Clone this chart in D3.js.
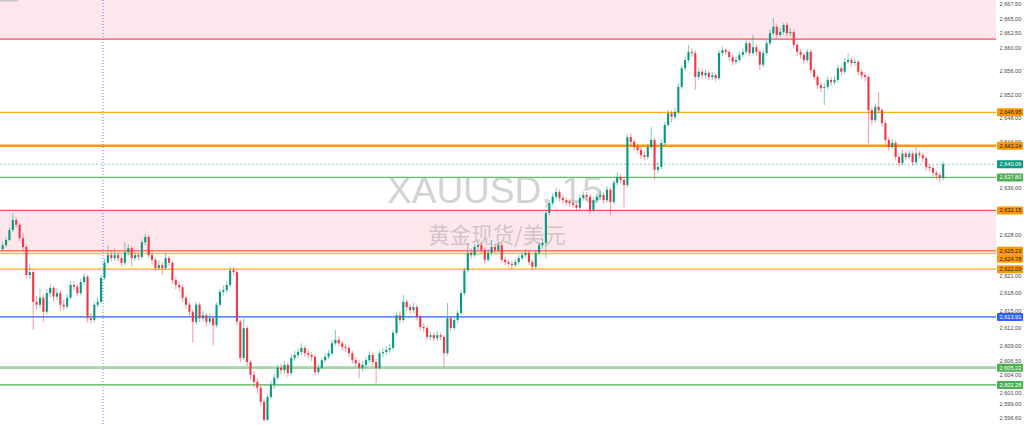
<!DOCTYPE html>
<html><head><meta charset="utf-8">
<script src="https://cdn.jsdelivr.net/npm/d3@7"></script>
<style>html,body{margin:0;padding:0;background:#fff;overflow:hidden}</style>
</head><body>
<svg id="chart" width="1024" height="425"></svg>
<script>
// ---- DATA ----
const opens = [2625.5,2626.2,2627.1,2628.8,2630.5,2629.7,2627.4,2625.9,2621.1,2621.6,
2616.5,2616.0,2617.2,2614.8,2618.0,2618.9,2617.4,2618.0,2616.0,2615.7,
2617.2,2619.4,2619.1,2618.0,2619.9,2620.8,2613.7,2613.4,2616.0,2616.5,
2620.6,2623.2,2624.5,2624.0,2624.5,2624.0,2623.2,2625.0,2625.7,2624.0,
2624.5,2624.2,2626.7,2627.6,2624.5,2623.7,2622.3,2622.8,2622.3,2624.0,
2623.2,2620.2,2619.4,2619.0,2617.2,2616.0,2614.8,2613.1,2616.0,2613.7,
2614.2,2613.1,2613.7,2612.5,2616.0,2618.2,2618.5,2619.4,2621.9,2621.6,
2613.1,2606.9,2612.0,2606.2,2604.0,2602.8,2601.8,2599.4,2596.3,2600.2,
2602.3,2603.5,2605.2,2604.8,2605.7,2604.3,2606.9,2607.4,2607.9,2608.6,
2607.7,2607.4,2607.1,2604.5,2605.2,2606.5,2607.1,2607.7,2609.4,2610.0,
2609.4,2608.8,2608.6,2607.7,2606.5,2606.0,2605.2,2605.7,2606.5,2607.4,
2606.2,2605.2,2607.7,2607.9,2608.3,2608.6,2611.2,2614.2,2613.4,2616.5,
2615.6,2615.1,2615.6,2613.9,2612.2,2612.0,2610.5,2610.8,2610.3,2610.8,
2610.5,2607.7,2613.7,2612.0,2613.4,2614.6,2618.0,2621.9,2624.9,2624.5,
2625.9,2626.2,2625.4,2623.7,2624.9,2625.9,2625.4,2626.2,2623.7,2623.3,
2623.0,2622.8,2623.3,2624.0,2624.5,2624.9,2623.3,2622.5,2624.9,2626.2,
2626.6,2631.7,2633.4,2634.5,2635.3,2634.3,2633.9,2633.6,2633.4,2633.1,
2632.6,2634.3,2634.8,2634.5,2632.2,2633.9,2634.5,2634.8,2633.9,2635.7,
2633.6,2636.9,2637.9,2637.4,2636.5,2644.7,2643.9,2643.0,2642.5,2641.6,
2641.3,2643.0,2644.2,2639.1,2639.6,2643.7,2646.8,2648.8,2648.2,2649.0,
2653.3,2656.5,2657.9,2659.3,2659.1,2655.0,2655.9,2655.3,2655.7,2655.0,
2655.3,2654.8,2659.1,2659.6,2659.3,2658.4,2657.6,2657.9,2658.8,2659.3,
2660.8,2659.1,2660.1,2659.3,2657.1,2659.1,2660.8,2662.5,2663.6,2662.2,
2662.7,2663.9,2662.5,2662.7,2660.5,2659.3,2658.8,2657.9,2659.3,2656.2,
2655.0,2653.6,2653.1,2653.3,2654.5,2654.1,2654.5,2656.5,2655.9,2657.6,
2657.9,2657.4,2657.6,2655.9,2655.3,2655.0,2649.3,2647.6,2649.9,2649.3,
2647.1,2644.2,2643.0,2643.7,2641.3,2640.3,2641.9,2641.3,2641.9,2640.4,
2641.9,2641.6,2641.1,2639.6,2639.4,2638.6,2638.2,2637.7];

const highs = [2626.8,2627.6,2629.3,2631.7,2630.9,2630.0,2628.2,2626.3,2623.0,2622.0,
2617.5,2618.8,2617.8,2618.6,2619.5,2619.2,2618.9,2618.4,2616.9,2617.8,
2620.1,2620.0,2619.6,2620.4,2621.4,2621.1,2614.6,2616.5,2617.3,2621.1,
2623.9,2626.2,2625.3,2625.6,2625.0,2624.5,2626.7,2626.4,2626.0,2625.1,
2625.0,2627.2,2628.1,2627.9,2625.0,2624.1,2623.6,2623.2,2624.9,2624.4,
2623.5,2620.8,2620.0,2619.4,2617.6,2616.5,2615.2,2616.5,2616.4,2615.0,
2614.6,2614.5,2614.1,2616.4,2618.7,2619.3,2620.0,2622.5,2622.5,2622.0,
2613.5,2613.7,2612.4,2606.6,2604.6,2603.4,2602.3,2599.9,2600.7,2603.0,
2604.2,2605.8,2605.9,2606.4,2606.1,2607.5,2608.1,2608.5,2609.4,2609.0,
2608.3,2607.9,2607.5,2605.9,2607.0,2607.7,2608.3,2610.0,2611.7,2610.5,
2609.9,2609.3,2609.0,2608.1,2607.0,2606.5,2606.3,2607.1,2608.0,2607.8,
2606.7,2608.2,2608.6,2608.9,2609.3,2611.7,2614.7,2614.9,2617.7,2616.9,
2616.1,2616.3,2616.0,2614.3,2612.8,2612.4,2611.4,2611.3,2611.5,2611.2,
2610.9,2616.3,2614.1,2613.9,2615.1,2618.5,2622.4,2626.6,2625.6,2626.5,
2626.9,2626.7,2625.8,2625.5,2627.1,2626.4,2626.8,2626.6,2624.2,2623.8,
2623.5,2623.8,2624.5,2625.0,2625.5,2625.3,2623.8,2625.4,2626.7,2627.3,
2632.2,2633.9,2635.1,2636.0,2635.7,2634.8,2634.4,2634.1,2633.9,2633.5,
2634.8,2635.4,2635.3,2634.9,2634.4,2635.1,2635.5,2635.2,2636.3,2636.1,
2637.4,2638.6,2638.4,2637.9,2645.2,2645.3,2644.4,2643.5,2643.0,2642.2,
2643.6,2646.4,2644.6,2640.4,2644.2,2647.3,2649.4,2649.3,2649.7,2653.9,
2657.0,2658.5,2660.5,2659.9,2659.5,2656.6,2656.4,2656.3,2656.1,2655.9,
2655.7,2659.6,2660.2,2660.0,2659.7,2658.8,2658.5,2659.4,2659.9,2661.4,
2661.1,2662.2,2660.6,2659.7,2659.6,2661.3,2663.1,2665.1,2664.0,2663.4,
2664.2,2664.3,2663.4,2663.1,2660.9,2659.8,2659.2,2659.8,2659.7,2656.6,
2655.4,2654.1,2653.9,2655.1,2655.0,2655.2,2657.1,2656.9,2658.2,2659.1,
2658.4,2658.2,2658.0,2656.3,2655.8,2655.4,2649.8,2650.5,2652.4,2649.7,
2647.5,2644.7,2644.4,2644.1,2641.8,2642.5,2642.3,2642.5,2642.3,2643.0,
2642.4,2642.0,2641.5,2640.1,2639.8,2639.0,2638.6,2640.6];

const lows = [2625.1,2625.8,2626.9,2628.5,2629.2,2626.9,2625.3,2620.5,2620.4,2611.7,
2615.2,2615.5,2613.1,2614.3,2617.3,2616.6,2616.8,2614.9,2615.0,2615.3,
2616.9,2618.5,2617.5,2617.6,2619.4,2613.0,2612.8,2613.0,2615.6,2616.2,
2620.2,2622.9,2623.4,2623.5,2623.3,2622.6,2622.8,2624.4,2622.5,2623.5,
2623.6,2623.9,2626.2,2624.0,2622.9,2621.8,2621.9,2621.1,2621.9,2622.6,
2619.6,2618.7,2618.2,2616.5,2615.3,2614.0,2609.5,2612.6,2613.0,2613.1,
2612.3,2612.6,2609.1,2612.1,2615.6,2617.6,2618.0,2619.0,2621.0,2612.5,
2606.2,2606.5,2605.5,2603.2,2601.9,2600.8,2598.7,2596.0,2596.1,2599.8,
2601.6,2603.1,2604.1,2604.2,2603.6,2604.0,2606.4,2606.9,2607.4,2607.1,
2606.8,2606.3,2604.0,2604.1,2604.9,2606.1,2606.7,2607.3,2609.0,2608.9,
2608.2,2607.9,2607.1,2605.9,2605.4,2603.4,2604.6,2605.2,2606.0,2605.6,
2602.6,2604.8,2607.0,2607.4,2607.8,2608.2,2610.8,2612.8,2613.0,2615.0,
2614.5,2614.6,2613.3,2611.6,2611.3,2609.9,2610.0,2609.7,2609.8,2609.9,
2605.3,2607.3,2611.4,2611.6,2613.0,2614.2,2617.6,2621.5,2623.9,2624.1,
2625.4,2624.8,2623.1,2623.3,2624.5,2624.8,2625.0,2623.1,2622.7,2622.5,
2622.1,2622.4,2622.9,2623.6,2624.1,2622.8,2621.9,2622.1,2624.5,2625.6,
2624.0,2631.3,2633.0,2634.1,2633.7,2633.3,2633.0,2632.8,2632.6,2632.0,
2632.2,2633.8,2634.0,2631.6,2631.8,2633.4,2634.0,2633.3,2633.5,2631.4,
2633.2,2636.4,2636.8,2632.7,2636.1,2643.2,2642.4,2641.9,2641.0,2640.7,
2640.9,2642.6,2637.4,2638.5,2639.2,2643.3,2646.4,2647.3,2647.8,2648.5,
2652.9,2656.0,2657.5,2658.4,2652.8,2654.5,2654.7,2654.8,2654.4,2654.5,
2654.2,2654.4,2658.6,2658.8,2657.8,2657.0,2657.1,2657.5,2658.4,2658.9,
2658.5,2658.7,2658.7,2656.2,2656.7,2658.7,2660.4,2662.1,2661.6,2661.8,
2662.3,2661.9,2662.0,2659.9,2658.6,2658.1,2657.2,2657.5,2655.6,2654.4,
2652.9,2652.4,2650.2,2652.9,2653.5,2653.6,2654.1,2655.3,2655.5,2657.2,
2656.9,2656.9,2655.3,2654.7,2654.2,2643.7,2646.9,2647.2,2648.7,2646.5,
2643.6,2642.3,2642.6,2640.7,2639.6,2639.9,2640.7,2640.9,2639.8,2640.0,
2641.0,2640.5,2639.0,2638.8,2638.0,2637.5,2637.0,2637.3];

const closes = [2626.2,2627.1,2628.8,2630.5,2629.7,2627.4,2625.9,2621.1,2621.6,2616.5,
2616.0,2617.2,2614.8,2618.0,2618.9,2617.4,2618.0,2616.0,2615.7,2617.2,
2619.4,2619.1,2618.0,2619.9,2620.8,2613.7,2613.4,2616.0,2616.5,2620.6,
2623.2,2624.5,2624.0,2624.5,2624.0,2623.2,2625.0,2625.7,2624.0,2624.5,
2624.2,2626.7,2627.6,2624.5,2623.7,2622.3,2622.8,2622.3,2624.0,2623.2,
2620.2,2619.4,2619.0,2617.2,2616.0,2614.8,2613.1,2616.0,2613.7,2614.2,
2613.1,2613.7,2612.5,2616.0,2618.2,2618.5,2619.4,2621.9,2621.6,2613.1,
2606.9,2612.0,2606.2,2604.0,2602.8,2601.8,2599.4,2596.3,2600.2,2602.3,
2603.5,2605.2,2604.8,2605.7,2604.3,2606.9,2607.4,2607.9,2608.6,2607.7,
2607.4,2607.1,2604.5,2605.2,2606.5,2607.1,2607.7,2609.4,2610.0,2609.4,
2608.8,2608.6,2607.7,2606.5,2606.0,2605.2,2605.7,2606.5,2607.4,2606.2,
2605.2,2607.7,2607.9,2608.3,2608.6,2611.2,2614.2,2613.4,2616.5,2615.6,
2615.1,2615.6,2613.9,2612.2,2612.0,2610.5,2610.8,2610.3,2610.8,2610.5,
2607.7,2613.7,2612.0,2613.4,2614.6,2618.0,2621.9,2624.9,2624.5,2625.9,
2626.2,2625.4,2623.7,2624.9,2625.9,2625.4,2626.2,2623.7,2623.3,2623.0,
2622.8,2623.3,2624.0,2624.5,2624.9,2623.3,2622.5,2624.9,2626.2,2626.6,
2631.7,2633.4,2634.5,2635.3,2634.3,2633.9,2633.6,2633.4,2633.1,2632.6,
2634.3,2634.8,2634.5,2632.2,2633.9,2634.5,2634.8,2633.9,2635.7,2633.6,
2636.9,2637.9,2637.4,2636.5,2644.7,2643.9,2643.0,2642.5,2641.6,2641.3,
2643.0,2644.2,2639.1,2639.6,2643.7,2646.8,2648.8,2648.2,2649.0,2653.3,
2656.5,2657.9,2659.3,2659.1,2655.0,2655.9,2655.3,2655.7,2655.0,2655.3,
2654.8,2659.1,2659.6,2659.3,2658.4,2657.6,2657.9,2658.8,2659.3,2660.8,
2659.1,2660.1,2659.3,2657.1,2659.1,2660.8,2662.5,2663.6,2662.2,2662.7,
2663.9,2662.5,2662.7,2660.5,2659.3,2658.8,2657.9,2659.3,2656.2,2655.0,
2653.6,2653.1,2653.3,2654.5,2654.1,2654.5,2656.5,2655.9,2657.6,2657.9,
2657.4,2657.6,2655.9,2655.3,2655.0,2649.3,2647.6,2649.9,2649.3,2647.1,
2644.2,2643.0,2643.7,2641.3,2640.3,2641.9,2641.3,2641.9,2640.4,2641.9,
2641.6,2641.1,2639.6,2639.4,2638.6,2638.2,2637.7,2640.06];

const tickValues = [2667.5,2665,2662.5,2660,2656,2652,2648,2644,2640,2636,2628,2621,2618,2615,2612,2609,2606.5,2604,2601,2599,2596.6];
const levelPrices = [2661.5,2648.95,2643.24,2640.06,2637.80,2632.15,2625.23,2624.78,2622.09,2613.91,2605.22,2602.28];
const zoneBounds = [[2661.5,2672],[2625.23,2632.15]];
const watermarkTitle = "XAUUSD, 15";
const watermarkSub = "黄金现货/美元";

// ---- STYLES ----
const levelStyles = [
  {c:"#f7525f", w:1.3, label:false},
  {c:"#ffa726", w:1.3, label:true, bg:"#ff9800", tc:"#1b1b1b"},
  {c:"#ff9800", w:2.4, label:true, bg:"#ff9800", tc:"#1b1b1b"},
  {c:"#7fcfc0", w:1, dash:"2,2", label:true, bg:"#089981", tc:"#ffffff"},
  {c:"#66bb6a", w:1.3, label:true, bg:"#4caf50", tc:"#ffffff"},
  {c:"#f7525f", w:1.3, label:true, bg:"#ff9800", tc:"#1b1b1b"},
  {c:"#f7525f", w:1.3, label:true, bg:"#ff9800", tc:"#1b1b1b"},
  {c:"#ffb74d", w:1.3, label:true, bg:"#ff9800", tc:"#1b1b1b"},
  {c:"#ffa726", w:1.3, label:true, bg:"#ff9800", tc:"#1b1b1b"},
  {c:"#2962ff", w:1.3, label:true, bg:"#2962ff", tc:"#ffffff"},
  {c:"#a5d6a7", w:2.8, label:true, bg:"#4caf50", tc:"#ffffff"},
  {c:"#4caf50", w:1.3, label:true, bg:"#4caf50", tc:"#ffffff"}
];
const UP = "#089981", DOWN = "#f23645";

const svg = d3.select("#chart");
const W = 1024, H = 425, plotRight = 996;

const y = d3.scaleLinear().domain([2596.6, 2667.5]).range([418.06, 4]);
const idx = d3.range(closes.length);
const x = d3.scaleBand().domain(idx).range([0.3, 945.5]).padding(0.38);

// zones
svg.append("g").selectAll("rect").data(zoneBounds).join("rect")
  .attr("x", 0).attr("width", plotRight)
  .attr("y", d => y(d[1])).attr("height", d => y(d[0]) - y(d[1]))
  .attr("fill", "#fde6ec");

// watermark
svg.append("text").text(watermarkTitle)
  .attr("x", 495).attr("y", 203).attr("text-anchor", "middle")
  .attr("font-family", "'Liberation Sans', Arial, sans-serif").attr("font-size", 37)
  .attr("fill", "rgba(140,140,140,0.4)");
svg.append("text").text(watermarkSub)
  .attr("x", 497).attr("y", 243).attr("text-anchor", "middle")
  .attr("font-family", "'Noto Sans CJK SC', sans-serif").attr("font-size", 21.5)
  .attr("fill", "rgba(140,140,140,0.4)");

// vertical dotted line
svg.append("line").attr("x1", 103).attr("x2", 103).attr("y1", 0).attr("y2", H)
  .attr("stroke", "#2962ff").attr("stroke-width", 1).attr("stroke-dasharray", "1,2").attr("opacity", 0.75);

// level lines
svg.append("g").selectAll("line").data(levelPrices).join("line")
  .attr("x1", 0).attr("x2", plotRight)
  .attr("y1", d => y(d)).attr("y2", d => y(d))
  .attr("stroke", (d,i) => levelStyles[i].c)
  .attr("stroke-width", (d,i) => levelStyles[i].w)
  .attr("stroke-dasharray", (d,i) => levelStyles[i].dash || null);

// candles
const g = svg.append("g");
const bw = x.bandwidth();
g.selectAll("line.wick").data(idx).join("line")
  .attr("class","wick")
  .attr("x1", i => x(i) + bw/2).attr("x2", i => x(i) + bw/2)
  .attr("y1", i => y(highs[i])).attr("y2", i => y(lows[i]))
  .attr("stroke", i => closes[i] >= opens[i] ? UP : DOWN)
  .attr("stroke-width", 1).attr("opacity", 0.5);
g.selectAll("rect.body").data(idx).join("rect")
  .attr("class","body")
  .attr("x", i => x(i)).attr("width", bw)
  .attr("y", i => y(Math.max(opens[i], closes[i])))
  .attr("height", i => Math.max(1, Math.abs(y(opens[i]) - y(closes[i]))))
  .attr("fill", i => closes[i] >= opens[i] ? UP : DOWN);

// top-left marker
svg.append("rect").attr("x",0).attr("y",0).attr("width",18).attr("height",1.5).attr("fill","#c8c8c8");

// price axis
const fmt = d3.format(",.2f");
const axis = svg.append("g").attr("transform", `translate(${plotRight},0)`)
  .call(d3.axisRight(y).tickValues(tickValues).tickFormat(fmt).tickSize(0).tickPadding(3.5));
axis.select(".domain").remove();
axis.selectAll("text").attr("font-family", "'Liberation Sans', Arial, sans-serif")
  .attr("font-size", 5.6).attr("fill", "#4a4a4a");

// level labels with simple overlap avoidance
const labelData = levelPrices.map((p,i) => ({p, i, yy: y(p)})).filter(d => levelStyles[d.i].label)
  .sort((a,b) => a.yy - b.yy);
for (let k = 1; k < labelData.length; k++) {
  if (labelData[k].yy < labelData[k-1].yy + 8) labelData[k].yy = labelData[k-1].yy + 8;
}
const lg = svg.append("g").selectAll("g").data(labelData).join("g")
  .attr("transform", d => `translate(${plotRight + 1},${d.yy})`);
lg.append("rect").attr("x", 0).attr("y", -4).attr("width", 26).attr("height", 8).attr("rx", 1)
  .attr("fill", d => levelStyles[d.i].bg);
lg.append("text").text(d => fmt(d.p)).attr("x", 2.5).attr("y", 0).attr("dy", "0.35em")
  .attr("font-family", "'Liberation Sans', Arial, sans-serif").attr("font-size", 5.6)
  .attr("fill", d => levelStyles[d.i].tc);
</script>
</body></html>
